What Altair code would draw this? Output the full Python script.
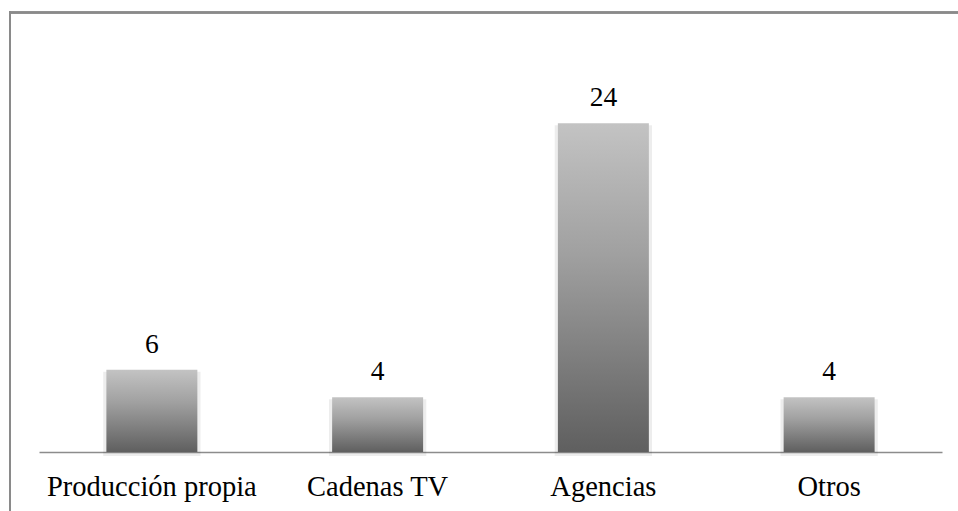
import altair as alt
import pandas as pd

# Source categories and counts
categories = ["Producción propia", "Cadenas TV", "Agencias", "Otros"]
counts = [6, 4, 24, 4]

df = pd.DataFrame({"fuente": categories, "n": counts})

FONT = "Liberation Serif"

x_enc = alt.X(
    "fuente:N",
    sort=categories,
    scale=alt.Scale(paddingInner=0.597, paddingOuter=0.2985),
    axis=alt.Axis(
        title=None,
        ticks=False,
        tickSize=0,
        labelAngle=0,
        labelFont=FONT,
        labelFontSize=28.5,
        labelColor="#000000",
        labelBaseline="alphabetic",
        labelPadding=43,
        labelLimit=0,
        domainColor="#8c8c8c",
        domainWidth=1.5,
        grid=False,
    ),
)
y_enc = alt.Y("n:Q", scale=alt.Scale(domain=[0, 30], nice=False), axis=None)

bar_fill = alt.Gradient(
    gradient="linear",
    stops=[
        alt.GradientStop(color="#c3c3c3", offset=0),
        alt.GradientStop(color="#a0a0a0", offset=0.4),
        alt.GradientStop(color="#5f5f5f", offset=1),
    ],
    x1=0, x2=0, y1=0, y2=1,
)

base = alt.Chart(df)

# soft drop shadow behind each bar
shadow = base.mark_bar(
    color="#000000", opacity=0.07, width={"band": 1.07}, yOffset=2, y2Offset=4
).encode(x=x_enc, y=y_enc, y2=alt.datum(0))

bars = base.mark_bar(color=bar_fill).encode(x=x_enc, y=y_enc)

labels = base.mark_text(
    font=FONT, fontSize=27.5, color="#000000", baseline="alphabetic", dy=-17
).encode(x=x_enc, y=y_enc, text="n:Q")

# outer frame: top and left edges of the chart box
frame_top = base.mark_rule(color="#8a8a8a", strokeWidth=2).encode(
    x=alt.value(-30), x2=alt.value(960), y=alt.value(-28.5)
)
frame_left = base.mark_rule(color="#8a8a8a", strokeWidth=2).encode(
    x=alt.value(-29), y=alt.value(-29.5), y2=alt.value(520)
)

chart = (
    alt.layer(shadow, bars, labels, frame_top, frame_left)
    .properties(
        width=903,
        height=411,
        autosize=alt.AutoSizeParams(type="none"),
        padding={"left": 39, "top": 41, "right": 16, "bottom": 59},
        background="#ffffff",
    )
    .configure_view(stroke=None)
)

chart.save("out.html", embed_options={"renderer": "svg", "actions": False})
